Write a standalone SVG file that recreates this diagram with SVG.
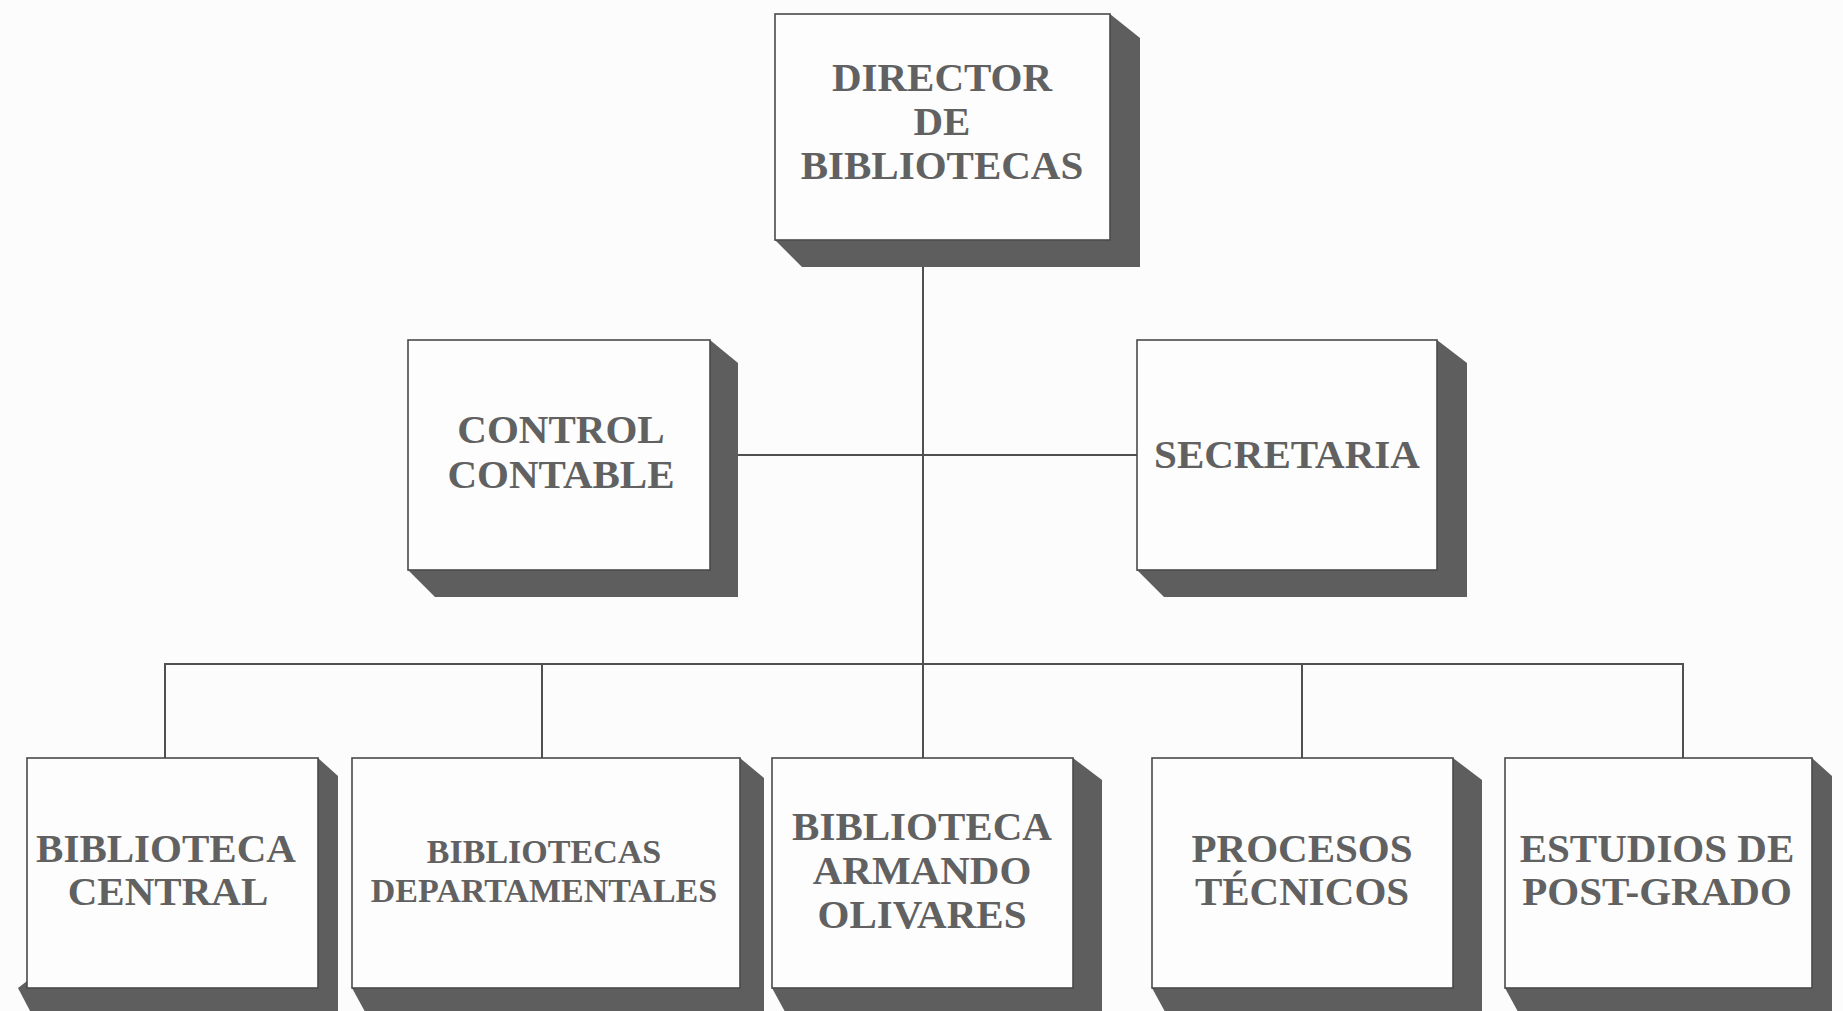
<svg xmlns="http://www.w3.org/2000/svg" width="1843" height="1011" viewBox="0 0 1843 1011">
<style>
.bg{fill:#fcfcfc}
.box{fill:#fdfdfd;stroke:#4a4a4a;stroke-width:1.6}
.sh{fill:#5e5e5e}
.t{font-family:"Liberation Serif","Times New Roman",serif;font-weight:bold;font-size:41px;fill:#616161;text-anchor:middle}
.s{font-size:34px}
.c{fill:none;stroke:#505050;stroke-width:2}
</style>
<rect class="bg" x="0" y="0" width="1843" height="1011"/>
<g id="connectors">
<line class="c" x1="923" y1="267" x2="923" y2="758"/>
<line class="c" x1="738" y1="455" x2="1137" y2="455"/>
<polyline class="c" points="165,758 165,664 1683,664 1683,758"/>
<line class="c" x1="542" y1="664" x2="542" y2="758"/>
<line class="c" x1="1302" y1="664" x2="1302" y2="758"/>
</g>
<g id="director">
<polygon class="sh" points="1110,14 1140,38 1140,267 802,267 775,240"/>
<rect class="box" x="775" y="14" width="335" height="226"/>
<text class="t" x="942" y="91">DIRECTOR</text>
<text class="t" x="942" y="135">DE</text>
<text class="t" x="942" y="179">BIBLIOTECAS</text>
</g>
<g id="control">
<polygon class="sh" points="710,340 738,363 738,597 435,597 408,570"/>
<rect class="box" x="408" y="340" width="302" height="230"/>
<text class="t" x="561" y="443">CONTROL</text>
<text class="t" x="561" y="488">CONTABLE</text>
</g>
<g id="secretaria">
<polygon class="sh" points="1437,340 1467,363 1467,597 1164,597 1137,570"/>
<rect class="box" x="1137" y="340" width="300" height="230"/>
<text class="t" x="1287" y="468">SECRETARIA</text>
</g>
<g id="central">
<polygon class="sh" points="318,758 338,776 338,1030 40,1030 18,988"/>
<rect class="box" x="27" y="758" width="291" height="230"/>
<text class="t" x="166" y="862">BIBLIOTECA</text>
<text class="t" x="168" y="905">CENTRAL</text>
</g>
<g id="departamentales">
<polygon class="sh" points="740,758 764,778 764,1030 375,1030 352,988"/>
<rect class="box" x="352" y="758" width="388" height="230"/>
<text class="t s" x="544" y="863">BIBLIOTECAS</text>
<text class="t s" x="544" y="902">DEPARTAMENTALES</text>
</g>
<g id="armando">
<polygon class="sh" points="1073,758 1102,780 1102,1030 795,1030 772,988"/>
<rect class="box" x="772" y="758" width="301" height="230"/>
<text class="t" x="922" y="840">BIBLIOTECA</text>
<text class="t" x="922" y="884">ARMANDO</text>
<text class="t" x="922" y="928">OLIVARES</text>
</g>
<g id="procesos">
<polygon class="sh" points="1453,758 1482,780 1482,1030 1175,1030 1152,988"/>
<rect class="box" x="1152" y="758" width="301" height="230"/>
<text class="t" x="1302" y="862">PROCESOS</text>
<text class="t" x="1302" y="905">TÉCNICOS</text>
</g>
<g id="estudios">
<polygon class="sh" points="1812,758 1832,776 1832,1030 1528,1030 1505,988"/>
<rect class="box" x="1505" y="758" width="307" height="230"/>
<text class="t" x="1657" y="862">ESTUDIOS DE</text>
<text class="t" x="1657" y="905">POST-GRADO</text>
</g>
</svg>
